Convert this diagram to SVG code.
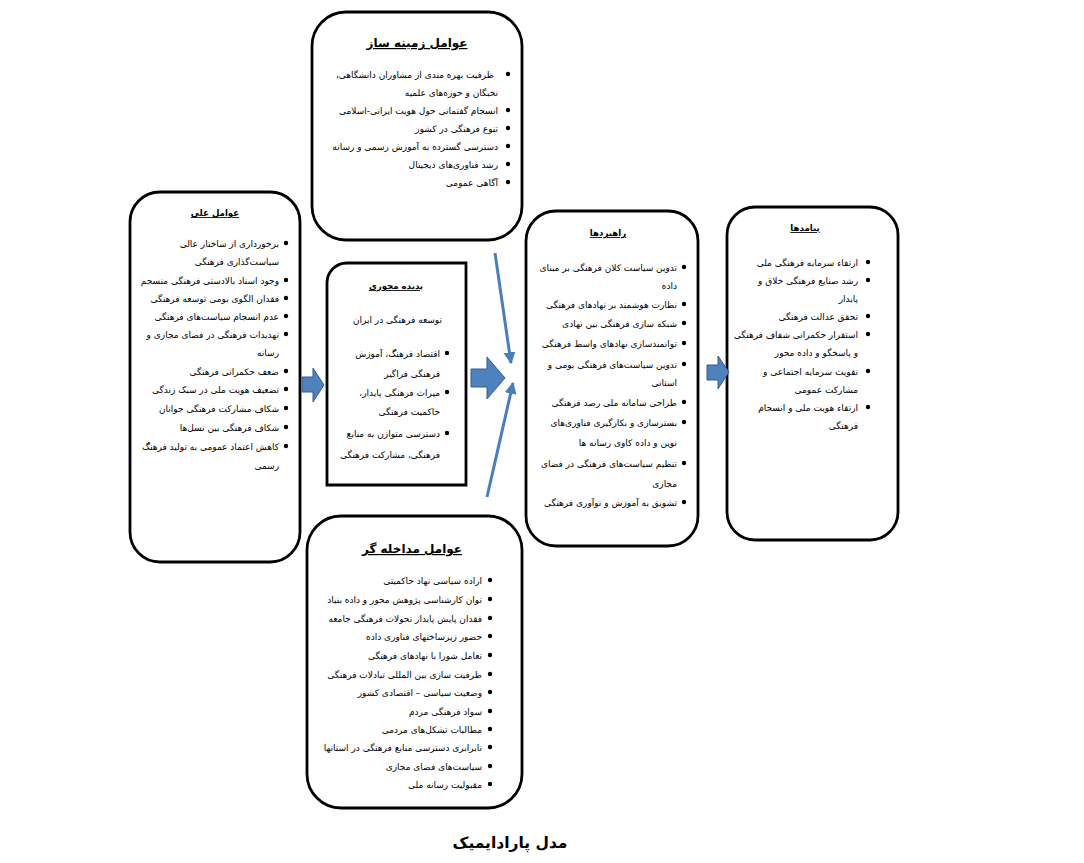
<svg xmlns="http://www.w3.org/2000/svg" width="1084" height="863" viewBox="0 0 1084 863">
<style>
.box{fill:#fff;stroke:#000;stroke-width:2.8}
.t{font-family:"DejaVu Sans",sans-serif;font-size:9px;fill:#000;direction:rtl;text-anchor:start}
.h{font-family:"DejaVu Sans",sans-serif;font-size:8.6px;font-weight:bold;fill:#000;direction:rtl;text-anchor:middle;text-decoration:underline}
.hb{font-family:"DejaVu Sans",sans-serif;font-size:12px;font-weight:bold;fill:#000;direction:rtl;text-anchor:middle;text-decoration:underline}
.cap{font-family:"DejaVu Sans",sans-serif;font-size:15.5px;font-weight:bold;fill:#000;direction:rtl;text-anchor:middle}
.dot{fill:#000}
.blk{fill:#4F81BD;stroke:#385D8A;stroke-width:1}
.ln{stroke:#4A7EBB;stroke-width:3;fill:none}
</style>
<defs>
<marker id="ah" viewBox="0 0 10 10" refX="9" refY="5" markerWidth="4" markerHeight="5" orient="auto" markerUnits="strokeWidth">
<path d="M0,0 L10,5 L0,10 z" fill="#4A7EBB"/>
</marker>
</defs>
<rect width="1084" height="863" fill="#fff"/>

<g id="zamine">
<rect class="box" x="312" y="12" width="210" height="228" rx="34"/>
<text class="hb" x="417" y="47">عوامل زمینه ساز</text>
<circle class="dot" cx="508" cy="74" r="2.2"/><text class="t" x="494" y="78">ظرفیت بهره مندی از مشاوران دانشگاهی،</text>
<text class="t" x="498" y="96">نخبگان و حوزه‌های علمیه</text>
<circle class="dot" cx="508" cy="110" r="2.2"/><text class="t" x="498" y="114">انسجام گفتمانی حول هویت ایرانی-اسلامی</text>
<circle class="dot" cx="508" cy="128" r="2.2"/><text class="t" x="498" y="132">تنوع فرهنگی در کشور</text>
<circle class="dot" cx="508" cy="146" r="2.2"/><text class="t" x="498" y="150">دسترسی گسترده به آموزش رسمی و رسانه</text>
<circle class="dot" cx="508" cy="164" r="2.2"/><text class="t" x="498" y="168">رشد فناوری‌های دیجیتال</text>
<circle class="dot" cx="508" cy="182" r="2.2"/><text class="t" x="498" y="186">آگاهی عمومی</text>
</g>

<g id="elali">
<rect class="box" x="130" y="192" width="170" height="370" rx="30"/>
<text class="h" x="215" y="216">عوامل علی</text>
<circle class="dot" cx="286" cy="243" r="2.2"/><text class="t" x="279" y="247">برخورداری از ساختار عالی</text>
<text class="t" x="279" y="265">سیاست‌گذاری فرهنگی</text>
<circle class="dot" cx="286" cy="280" r="2.2"/><text class="t" x="279" y="284">وجود اسناد بالادستی فرهنگی منسجم</text>
<circle class="dot" cx="286" cy="298" r="2.2"/><text class="t" x="279" y="302">فقدان الگوی بومی توسعه فرهنگی</text>
<circle class="dot" cx="286" cy="316" r="2.2"/><text class="t" x="279" y="320">عدم انسجام سیاست‌های فرهنگی</text>
<circle class="dot" cx="286" cy="334" r="2.2"/><text class="t" x="279" y="338">تهدیدات فرهنگی در فضای مجازی و</text>
<text class="t" x="279" y="356">رسانه</text>
<circle class="dot" cx="286" cy="371" r="2.2"/><text class="t" x="279" y="375">ضعف حکمرانی فرهنگی</text>
<circle class="dot" cx="286" cy="389" r="2.2"/><text class="t" x="279" y="393">تضعیف هویت ملی در سبک زندگی</text>
<circle class="dot" cx="286" cy="408" r="2.2"/><text class="t" x="279" y="412">شکاف مشارکت فرهنگی جوانان</text>
<circle class="dot" cx="286" cy="427" r="2.2"/><text class="t" x="279" y="431">شکاف فرهنگی بین نسل‌ها</text>
<circle class="dot" cx="286" cy="446" r="2.2"/><text class="t" x="279" y="450">کاهش اعتماد عمومی به تولید فرهنگ</text>
<text class="t" x="279" y="469">رسمی</text>
</g>

<g id="mehvari">
<path class="box" d="M347,263 H466 V485 H327 V283 A20,20 0 0 1 347,263 Z"/>
<text class="h" x="396" y="289">پدیده محوری</text>
<text class="t" x="442" y="323">توسعه فرهنگی در ایران</text>
<circle class="dot" cx="447" cy="353" r="2.2"/><text class="t" x="440" y="357">اقتصاد فرهنگ، آموزش</text>
<text class="t" x="440" y="377">فرهنگی فراگیر</text>
<circle class="dot" cx="447" cy="392" r="2.2"/><text class="t" x="440" y="396">میراث فرهنگی پایدار،</text>
<text class="t" x="440" y="415">حاکمیت فرهنگی</text>
<circle class="dot" cx="447" cy="433" r="2.2"/><text class="t" x="440" y="437">دسترسی متوازن به منابع</text>
<text class="t" x="440" y="458">فرهنگی، مشارکت فرهنگی</text>
</g>

<g id="rahbord">
<rect class="box" x="526" y="211" width="172" height="335" rx="30"/>
<text class="h" x="608" y="236">راهبردها</text>
<circle class="dot" cx="684" cy="267" r="2.2"/><text class="t" x="677" y="271">تدوین سیاست کلان فرهنگی بر مبنای</text>
<text class="t" x="677" y="289">داده</text>
<circle class="dot" cx="684" cy="304" r="2.2"/><text class="t" x="677" y="308">نظارت هوشمند بر نهادهای فرهنگی</text>
<circle class="dot" cx="684" cy="323" r="2.2"/><text class="t" x="677" y="327">شبکه سازی فرهنگی بین نهادی</text>
<circle class="dot" cx="684" cy="343" r="2.2"/><text class="t" x="677" y="347">توانمندسازی نهادهای واسط فرهنگی</text>
<circle class="dot" cx="684" cy="364" r="2.2"/><text class="t" x="677" y="368">تدوین سیاست‌های فرهنگی بومی و</text>
<text class="t" x="677" y="386">استانی</text>
<circle class="dot" cx="684" cy="402" r="2.2"/><text class="t" x="677" y="406">طراحی سامانه ملی رصد فرهنگی</text>
<circle class="dot" cx="684" cy="422" r="2.2"/><text class="t" x="677" y="426">بسترسازی و بکارگیری فناوری‌های</text>
<text class="t" x="677" y="446">نوین و داده کاوی رسانه ها</text>
<circle class="dot" cx="684" cy="463" r="2.2"/><text class="t" x="677" y="467">تنظیم سیاست‌های فرهنگی در فضای</text>
<text class="t" x="677" y="487">مجازی</text>
<circle class="dot" cx="684" cy="502" r="2.2"/><text class="t" x="677" y="506">تشویق به آموزش و نوآوری فرهنگی</text>
</g>

<g id="payamad">
<rect class="box" x="727" y="207" width="171" height="333" rx="28"/>
<text class="h" x="805" y="231">پیامدها</text>
<circle class="dot" cx="868" cy="262" r="2.2"/><text class="t" x="858" y="266">ارتقاء سرمایه فرهنگی ملی</text>
<circle class="dot" cx="868" cy="280" r="2.2"/><text class="t" x="858" y="284">رشد صنایع فرهنگی خلاق و</text>
<text class="t" x="858" y="302">پایدار</text>
<circle class="dot" cx="868" cy="316" r="2.2"/><text class="t" x="858" y="320">تحقق عدالت فرهنگی</text>
<circle class="dot" cx="868" cy="334" r="2.2"/><text class="t" x="858" y="338">استقرار حکمرانی شفاف فرهنگی</text>
<text class="t" x="858" y="356">و پاسخگو و داده محور</text>
<circle class="dot" cx="868" cy="371" r="2.2"/><text class="t" x="858" y="375">تقویت سرمایه اجتماعی و</text>
<text class="t" x="858" y="393">مشارکت عمومی</text>
<circle class="dot" cx="868" cy="407" r="2.2"/><text class="t" x="858" y="411">ارتقاء هویت ملی و انسجام</text>
<text class="t" x="858" y="429">فرهنگی</text>
</g>

<g id="modakhele">
<rect class="box" x="307" y="516" width="215" height="292" rx="34"/>
<text class="hb" x="412" y="553">عوامل مداخله گر</text>
<circle class="dot" cx="490" cy="580" r="2.2"/><text class="t" x="482" y="584">اراده سیاسی نهاد حاکمیتی</text>
<circle class="dot" cx="490" cy="599" r="2.2"/><text class="t" x="482" y="603">توان کارشناسی پژوهش محور و داده بنیاد</text>
<circle class="dot" cx="490" cy="618" r="2.2"/><text class="t" x="482" y="622">فقدان پایش پایدار تحولات فرهنگی جامعه</text>
<circle class="dot" cx="490" cy="636" r="2.2"/><text class="t" x="482" y="640">حضور زیرساختهای فناوری داده</text>
<circle class="dot" cx="490" cy="655" r="2.2"/><text class="t" x="482" y="659">تعامل شورا با نهادهای فرهنگی</text>
<circle class="dot" cx="490" cy="674" r="2.2"/><text class="t" x="482" y="678">ظرفیت سازی بین المللی تبادلات فرهنگی</text>
<circle class="dot" cx="490" cy="692" r="2.2"/><text class="t" x="482" y="696">وضعیت سیاسی – اقتصادی کشور</text>
<circle class="dot" cx="490" cy="711" r="2.2"/><text class="t" x="482" y="715">سواد فرهنگی مردم</text>
<circle class="dot" cx="490" cy="729" r="2.2"/><text class="t" x="482" y="733">مطالبات تشکل‌های مردمی</text>
<circle class="dot" cx="490" cy="747" r="2.2"/><text class="t" x="482" y="751">نابرابری دسترسی منابع فرهنگی در استانها</text>
<circle class="dot" cx="490" cy="766" r="2.2"/><text class="t" x="482" y="770">سیاست‌های فضای مجازی</text>
<circle class="dot" cx="490" cy="784" r="2.2"/><text class="t" x="482" y="788">مقبولیت رسانه ملی</text>
</g>

<g id="connectors">
<path class="blk" d="M302,377 H313 V368 L324,385 L313,402 V392 H302 Z"/>
<path class="blk" d="M471,369 H487 V357 L505,378 L487,399 V387 H471 Z"/>
<path class="blk" d="M707,365 H718 V356 L729,372 L718,389 V380 H707 Z"/>
<line class="ln" x1="495" y1="253" x2="511" y2="363" marker-end="url(#ah)"/>
<line class="ln" x1="487" y1="497" x2="513" y2="383" marker-end="url(#ah)"/>
</g>

<text class="cap" x="510" y="848">مدل پارادایمیک</text>
</svg>
